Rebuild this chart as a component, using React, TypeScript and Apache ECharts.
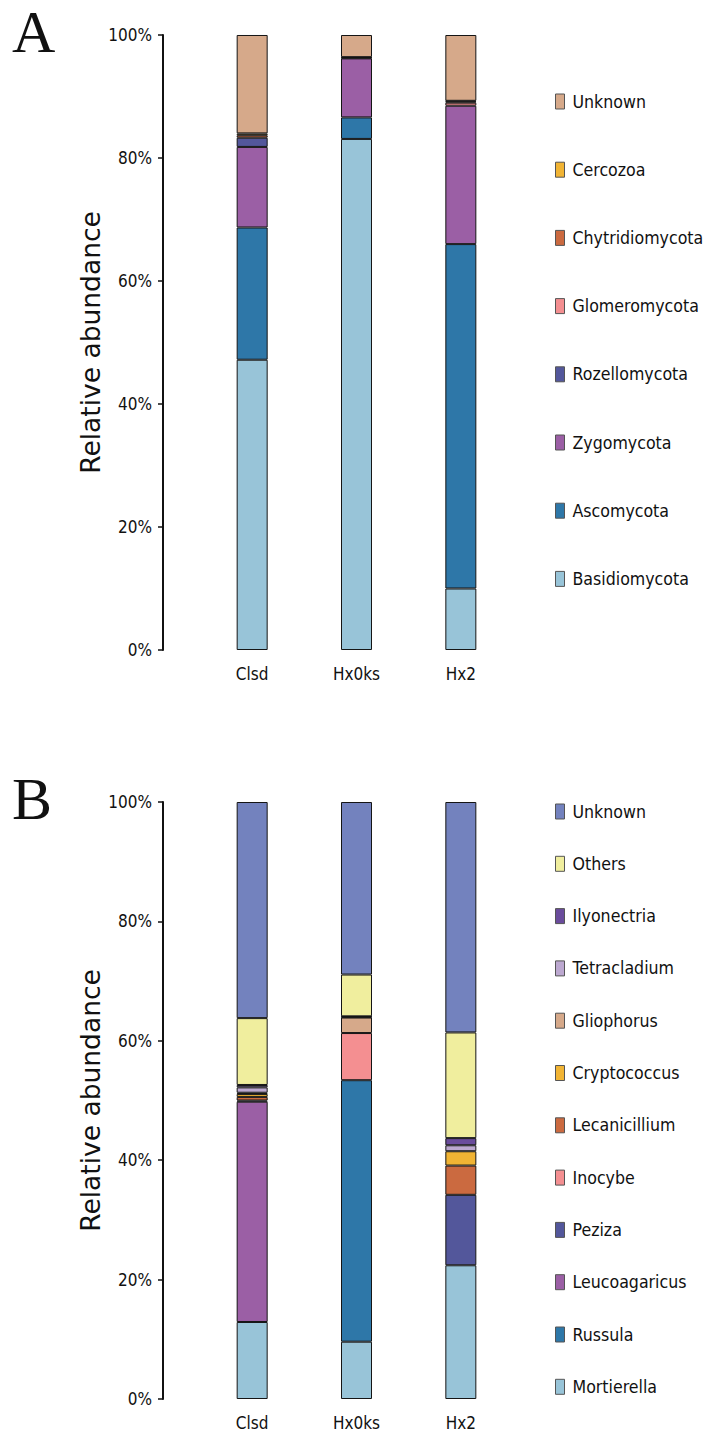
import React, { useEffect, useRef } from "react";
import * as echarts from "echarts";

const categories = ["Clsd", "Hx0ks", "Hx2"];
const yTicks = { min: 0, max: 100, interval: 20 };

// Panel A (phylum), listed bottom to top of the stack
const phylumNames = ["Basidiomycota", "Ascomycota", "Zygomycota", "Rozellomycota", "Glomeromycota", "Chytridiomycota", "Cercozoa", "Unknown"];
const phylumColors = ["#98C4D8", "#2E77A8", "#9B5FA5", "#53579B", "#F48F91", "#CB6A40", "#F1B434", "#D6A98A"];
const basidiomycota = [47.2, 83.1, 10.0];
const ascomycota = [21.5, 3.5, 56.0];
const zygomycota = [13.1, 9.6, 22.5];
const rozellomycota = [1.5, 0, 0];
const glomeromycota = [0, 0.1, 0.5];
const chytridiomycota = [0.4, 0.1, 0.2];
const cercozoa = [0.3, 0, 0.1];
const unknownA = [16.0, 3.6, 10.7];
const phylumValues = [basidiomycota, ascomycota, zygomycota, rozellomycota, glomeromycota, chytridiomycota, cercozoa, unknownA];

// Panel B (genus), listed bottom to top of the stack
const genusNames = ["Mortierella", "Russula", "Leucoagaricus", "Peziza", "Inocybe", "Lecanicillium", "Cryptococcus", "Gliophorus", "Tetracladium", "Ilyonectria", "Others", "Unknown"];
const genusColors = ["#98C4D8", "#2E77A8", "#9B5FA5", "#53579B", "#F48F91", "#CB6A40", "#F1B434", "#D6A98A", "#BCA8D0", "#6A4C9C", "#F0EE9E", "#7382BE"];
const mortierella = [12.9, 9.6, 22.4];
const russula = [0, 43.8, 0];
const leucoagaricus = [36.9, 0, 0];
const peziza = [0.2, 0, 11.8];
const inocybe = [0, 7.9, 0];
const lecanicillium = [0.6, 0, 4.9];
const cryptococcus = [0.5, 0, 2.4];
const gliophorus = [0.2, 2.6, 0];
const tetracladium = [0.9, 0.1, 1.0];
const ilyonectria = [0.4, 0.1, 1.2];
const others = [11.2, 7.0, 17.7];
const unknownB = [36.2, 28.9, 38.6];
const genusValues = [mortierella, russula, leucoagaricus, peziza, inocybe, lecanicillium, cryptococcus, gliophorus, tetracladium, ilyonectria, others, unknownB];

const COND = "'DejaVu Sans Condensed', 'DejaVu Sans', sans-serif";

export default function App() {
  const ref = useRef<HTMLDivElement>(null);
  useEffect(() => {
    if (!ref.current) return;
    const chart = echarts.init(ref.current, undefined, { renderer: "svg" });

    const mkX = (gi: number) => ({
      type: "category",
      gridIndex: gi,
      data: categories,
      axisLine: { show: false },
      axisTick: { show: false },
      axisLabel: { fontFamily: COND, fontSize: 17, color: "#111", margin: 15 },
    });
    const mkY = (gi: number) => ({
      type: "value",
      gridIndex: gi,
      min: yTicks.min,
      max: yTicks.max,
      interval: yTicks.interval,
      offset: 37,
      name: "Relative abundance",
      nameLocation: "middle",
      nameGap: 58,
      nameTextStyle: { fontFamily: "'DejaVu Sans', sans-serif", fontSize: 26.5, color: "#111" },
      axisLine: { show: true, lineStyle: { color: "#111", width: 2 } },
      axisTick: { show: true, length: 5, lineStyle: { color: "#111", width: 1.5 } },
      axisLabel: { fontFamily: COND, fontSize: 17, color: "#111", margin: 11, formatter: "{value}%" },
      splitLine: { show: false },
    });

    const series: any[] = [];
    phylumNames.forEach((n, i) => {
      series.push({
        type: "bar", name: n, stack: "a", xAxisIndex: 0, yAxisIndex: 0, barWidth: 31,
        itemStyle: { color: phylumColors[i], borderColor: "#151515", borderWidth: 1 },
        data: phylumValues[i].map((v) => (v > 0 ? v : "-")),
      });
    });
    genusNames.forEach((n, i) => {
      series.push({
        type: "bar", name: n === "Unknown" ? "Unknown " : n, stack: "b", xAxisIndex: 1, yAxisIndex: 1, barWidth: 31,
        itemStyle: { color: genusColors[i], borderColor: "#151515", borderWidth: 1 },
        data: genusValues[i].map((v) => (v > 0 ? v : "-")),
      });
    });

    const legendCommon = {
      orient: "vertical",
      left: 550,
      itemWidth: 9,
      itemHeight: 15,
      icon: "rect",
      selectedMode: false,
      textStyle: { fontFamily: COND, fontSize: 17.6, color: "#111", lineHeight: 15, padding: [0, 0, 0, 3] },
    };

    chart.setOption({
      animation: false,
      backgroundColor: "#fff",
      grid: [
        { left: 200, top: 35, width: 313, height: 615 },
        { left: 200, top: 802, width: 313, height: 597 },
      ],
      xAxis: [mkX(0), mkX(1)],
      yAxis: [mkY(0), mkY(1)],
      legend: [
        {
          ...legendCommon,
          top: 87.5,
          itemGap: 50.2,
          data: phylumNames.map((n, i) => ({ name: n, itemStyle: { color: phylumColors[i], borderColor: "#555", borderWidth: 1 } })).reverse(),
        },
        {
          ...legendCommon,
          top: 797.5,
          itemGap: 34.3,
          formatter: (n: string) => n.trim(),
          data: genusNames.map((n, i) => ({ name: n === "Unknown" ? "Unknown " : n, itemStyle: { color: genusColors[i], borderColor: "#555", borderWidth: 1 } })).reverse(),
        },
      ],
      graphic: [
        { type: "text", left: 12, top: 2, style: { text: "A", font: "60px 'Liberation Serif', serif", fill: "#111" } },
        { type: "text", left: 12, top: 769, style: { text: "B", font: "60px 'Liberation Serif', serif", fill: "#111" } },
      ],
      series,
    });
    return () => chart.dispose();
  }, []);
  return <div ref={ref} style={{ position: "absolute", left: 0, top: 0, width: 705, height: 1433 }} />;
}
